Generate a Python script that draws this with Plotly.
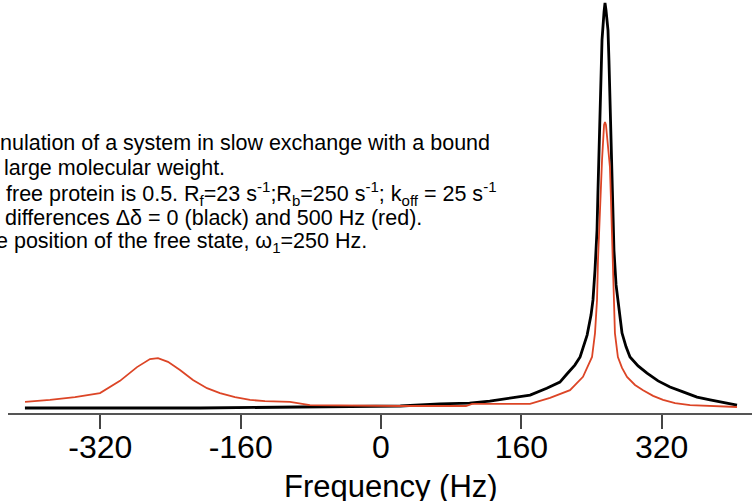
import plotly.graph_objects as go

# frequency (Hz) and relative intensity
freq_black = [-406, -320, -206, -92, 22, 67, 101, 124, 147, 170,
              189, 204, 212, 221, 227, 235, 239.5, 241.7, 244.0, 246.3,
              247.4, 248.6, 249.7, 250.9, 252.0, 254.3, 255.4, 256.5, 258.8, 259.9,
              261.0, 262.2, 263.3, 264.5, 265.6, 268.0, 271.4, 274.8, 279.4, 283.9,
              293.1, 303.3, 315.9, 329.5, 344.4, 360.3, 375.2, 386.6, 405.9]
int_black = [0, 0, 0, 0.25, 0.5, 1.0, 1.2, 1.7, 2.5, 3.2,
             4.9, 6.4, 8.4, 10.6, 12.6, 18.0, 23.0, 26.7, 34.1, 44.0,
             53.8, 63.7, 73.6, 83.5, 90.9, 97.8, 100, 98.3, 93.3, 85.9,
             76.0, 68.6, 58.8, 48.9, 39.0, 30.4, 24.2, 18.5, 15.1, 12.6,
             10.4, 8.6, 6.7, 5.2, 4.0, 2.7, 2.0, 1.5, 0.7]

freq_red = [-405.9, -377.4, -348.9, -320.4, -297.6, -278.2, -263.4, -254.3, -242.9, -229.2,
            -214.4, -198.4, -183.6, -166.5, -149.4, -132.3, -103.8, -81.0, 21.7, 96.9,
            103.8, 135.7, 169.9, 192.7, 215.5, 230.3, 240.6, 244.0, 246.3, 247.4,
            248.6, 249.7, 252.0, 254.3, 255.4, 256.5, 258.8, 261.0, 262.2, 263.3,
            264.5, 265.6, 266.7, 270.1, 274.8, 280.5, 289.6, 298.8, 310.2, 321.6,
            335.3, 352.4, 375.2, 405.9]
int_red = [1.5, 2.0, 2.7, 3.7, 6.7, 10.1, 12.1, 12.3, 11.4, 9.4,
           6.9, 4.9, 3.7, 2.7, 2.0, 1.7, 1.5, 0.7, 0.5, 0.5,
           1.0, 1.0, 1.0, 2.5, 4.4, 7.7, 12.6, 18.5, 26.7, 36.5,
           43.2, 51.4, 61.2, 69.9, 70.6, 69.9, 63.7, 59.5, 51.4, 43.2,
           34.1, 26.7, 18.5, 12.6, 9.9, 7.7, 5.7, 4.4, 3.0, 2.0,
           1.2, 0.7, 0.5, 0.25]

tick_vals = [-320, -160, 0, 160, 320]
tick_text = ["-320", "-160", "0", "160", "320"]

caption_lines = [
    "nulation of a system in slow exchange with a bound",
    "large molecular weight.",
    "free protein is 0.5. R<sub>f</sub>=23 s<sup>-1</sup>;R<sub>b</sub>=250 s<sup>-1</sup>; "
    "k<sub>off</sub> = 25 s<sup>-1</sup>",
    "differences \u0394\u03b4 = 0 (black) and 500 Hz (red).",
    "e position of the free state, \u03c9<sub>1</sub>=250 Hz.",
]

W, H = 752, 501
L, B = 8, 88
plot_w, plot_h = W - L, H - B

fig = go.Figure()
fig.add_trace(go.Scatter(x=freq_black, y=int_black, mode="lines",
                         line=dict(color="black", width=2.8), showlegend=False))
fig.add_trace(go.Scatter(x=freq_red, y=int_red, mode="lines",
                         line=dict(color="#dc4526", width=1.8), showlegend=False))

font = "Liberation Sans, Arial, Helvetica, sans-serif"


def px_x(px):
    return (px - L) / plot_w


def px_y(py):
    return (plot_h - py) / plot_h


caption_x = [-2, 2, 4, 3, -6]
for i, txt in enumerate(caption_lines):
    fig.add_annotation(text=txt, xref="paper", yref="paper",
                       x=px_x(caption_x[i]), y=px_y(143 + 25 * i),
                       xanchor="left", yanchor="middle", showarrow=False,
                       font=dict(family=font, size=21.5, color="black"))

fig.add_annotation(text="Frequency (Hz)", xref="paper", yref="paper",
                   x=px_x(391), y=px_y(486), xanchor="center", yanchor="middle",
                   showarrow=False, font=dict(family=font, size=31, color="black"))

fig.update_layout(
    width=W, height=H,
    margin=dict(l=L, r=0, t=0, b=B),
    plot_bgcolor="white",
    paper_bgcolor="white",
    font=dict(family=font, color="black"),
    xaxis=dict(
        range=[-425.3, 423.0],
        showgrid=False, zeroline=False,
        showline=True, linecolor="#555555", linewidth=2,
        ticks="outside", ticklen=14, tickwidth=1.5, tickcolor="#444444",
        tickvals=tick_vals, ticktext=tick_text,
        tickfont=dict(family=font, size=32, color="black"),
        ticklabelstandoff=-9,
    ),
    yaxis=dict(range=[-1.23, 100.74], visible=False),
)

# the page body has an 8px default margin; drop it so the figure fills the window
fig.write_html("out.html", config={"displayModeBar": False},
               post_script="document.body.style.margin='0';")
